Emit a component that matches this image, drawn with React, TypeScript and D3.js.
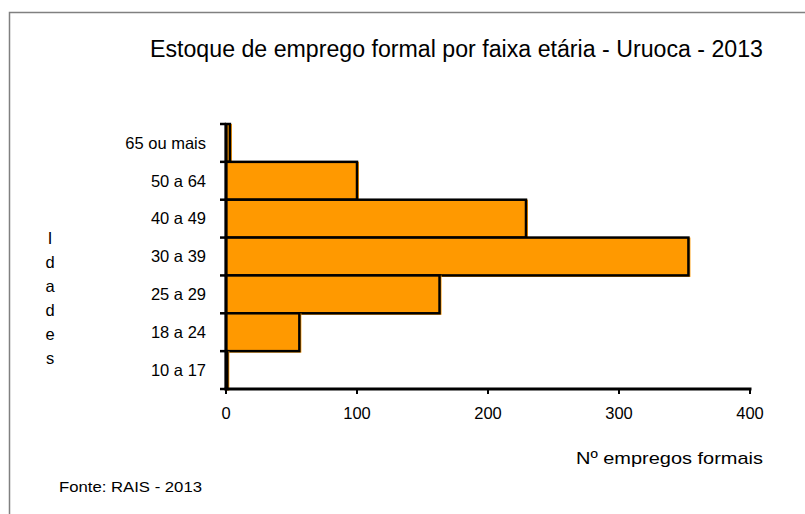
import React from "react";
import * as d3 from "d3";

// Faixas etárias (de cima para baixo) e número de empregos formais
const categories = ["65 ou mais", "50 a 64", "40 a 49", "30 a 39", "25 a 29", "18 a 24", "10 a 17"];
const values = [3, 100, 229, 353, 163, 56, 1];
const xTicks = [0, 100, 200, 300, 400];
const yLabelLetters = ["I", "d", "a", "d", "e", "s"];

const W = 805,
  H = 514;
const font = "'Liberation Sans', Arial, sans-serif";

export default function App() {
  const x = d3.scaleLinear().domain([0, 400]).range([226, 750]);
  const y = d3.scaleBand().domain(categories).range([124, 389]).padding(0);
  const bw = y.bandwidth();
  const boundaries = categories.map(c => y(c) as number).concat([389]);

  return (
    <svg
      width={W}
      height={H}
      style={{ position: "absolute", left: 0, top: 0, display: "block", background: "#fff" }}
      fontFamily={font}
    >
      {/* frame */}
      <path d={`M9.5,${H + 2} V12.5 H${W + 2}`} fill="none" stroke="#808080" strokeWidth={1.5} />

      {/* title */}
      <text x={150} y={57} fontSize={23} textLength={613} lengthAdjust="spacingAndGlyphs" fill="#000">
        Estoque de emprego formal por faixa etária - Uruoca - 2013
      </text>

      {/* bars: orange fill slightly offset, black outline */}
      {categories.map((c, i) => {
        const y0 = y(c) as number;
        const x1 = x(values[i]);
        return (
          <g key={c}>
            <rect x={x(0)} y={y0} width={Math.max(x1 - x(0) + 2, 1)} height={bw + 1.5} fill="#FF9900" />
            <rect
              x={x(0)}
              y={y0}
              width={Math.max(x1 - x(0), 0.5)}
              height={bw}
              fill="none"
              stroke="#000"
              strokeWidth={2.5}
            />
          </g>
        );
      })}

      {/* y axis */}
      <line x1={x(0)} x2={x(0)} y1={124} y2={389} stroke="#000" strokeWidth={3} />
      {boundaries.map((b, i) => (
        <line key={i} x1={x(0) - 6} x2={x(0)} y1={b} y2={b} stroke="#000" strokeWidth={2.5} />
      ))}
      {categories.map(c => (
        <text
          key={c}
          x={206}
          y={(y(c) as number) + bw / 2}
          dy="0.35em"
          textAnchor="end"
          fontSize={16.5}
          fill="#000"
        >
          {c}
        </text>
      ))}

      {/* x axis */}
      <line x1={x(0) - 1.5} x2={x(400) + 1.5} y1={389} y2={389} stroke="#000" strokeWidth={3} />
      {xTicks.map(t => (
        <g key={t}>
          <line x1={x(t)} x2={x(t)} y1={389} y2={394} stroke="#000" strokeWidth={2} />
          <text x={x(t)} y={413} dy="0.35em" textAnchor="middle" fontSize={16.5} fill="#000">
            {t}
          </text>
        </g>
      ))}

      {/* axis titles */}
      {yLabelLetters.map((l, i) => (
        <text key={i} x={50} y={238 + i * 24} dy="0.35em" textAnchor="middle" fontSize={16.5} fill="#000">
          {l}
        </text>
      ))}
      <text x={576} y={458} dy="0.35em" fontSize={17} textLength={187} lengthAdjust="spacingAndGlyphs" fill="#000">
        Nº empregos formais
      </text>

      {/* source */}
      <text x={59} y={487} dy="0.35em" fontSize={14.5} textLength={143} lengthAdjust="spacingAndGlyphs" fill="#000">
        Fonte: RAIS - 2013
      </text>
    </svg>
  );
}
